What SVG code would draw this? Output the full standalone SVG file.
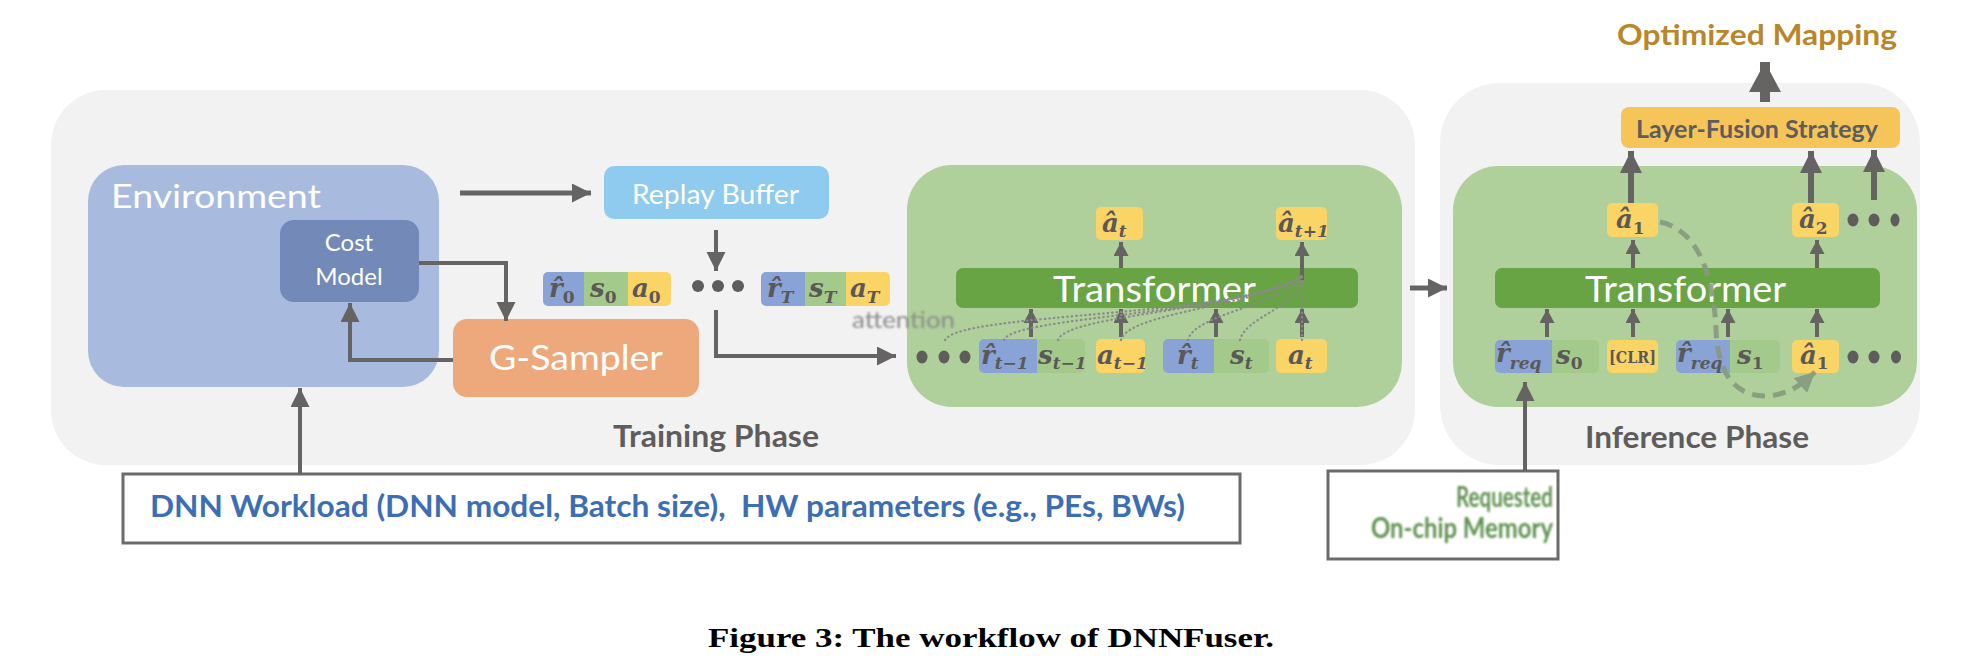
<svg xmlns="http://www.w3.org/2000/svg" width="1986" height="671" viewBox="0 0 1986 671">
<style>
.lbl{font-family:Lato,"Open Sans","Liberation Sans",sans-serif}
.w{fill:#ffffff}
.gr{fill:#5f5c5c}
.tok{font-family:"DejaVu Serif","Liberation Serif",serif;font-style:italic;font-weight:bold;fill:#5a5858}
.tokn{font-family:"DejaVu Serif","Liberation Serif",serif;font-weight:bold;fill:#5a5858}
.ar{stroke:#666363;fill:none}
.dot{fill:#5f5c5c}
.att{stroke:#8a8a8a;stroke-width:2.2;fill:none;stroke-dasharray:0.5 4;stroke-linecap:round}
.blue{fill:#89a3d6}.green{fill:#a3ca8a}.yel{fill:#fbd466}
</style>
<defs>
<marker id="am" markerUnits="userSpaceOnUse" markerWidth="20" markerHeight="20" refX="19" refY="9.5" orient="auto"><path d="M0,0 L19,9.5 L0,19 Z" fill="#666363"/></marker>
<marker id="as" markerUnits="userSpaceOnUse" markerWidth="16" markerHeight="16" refX="14" refY="7.5" orient="auto"><path d="M0,0 L14,7.5 L0,15 Z" fill="#666363"/></marker>
<marker id="ab" markerUnits="userSpaceOnUse" markerWidth="24" markerHeight="24" refX="22" refY="11" orient="auto"><path d="M0,0 L22,11 L0,22 Z" fill="#666363"/></marker>
<marker id="ah" markerUnits="userSpaceOnUse" markerWidth="32" markerHeight="34" refX="30" refY="16" orient="auto"><path d="M0,0 L30,16 L0,32 Z" fill="#666363"/></marker>
<marker id="ad" markerUnits="userSpaceOnUse" markerWidth="22" markerHeight="22" refX="20" refY="10" orient="auto"><path d="M0,0 L20,10 L0,20 Z" fill="#879a80"/></marker>
<filter id="blur" x="-5%" y="-20%" width="110%" height="140%"><feGaussianBlur stdDeviation="0.9"/></filter>
</defs>

<g id="training-panel">
<rect x="51" y="90" width="1364" height="375" rx="55" fill="#f2f2f2"/>
<text class="lbl gr" x="613" y="447" font-size="30" font-weight="bold" textLength="206" lengthAdjust="spacingAndGlyphs">Training Phase</text>
</g>
<g id="inference-panel">
<rect x="1440" y="83" width="480" height="382" rx="60" fill="#f2f2f2"/>
<text class="lbl gr" x="1585" y="448" font-size="30" font-weight="bold" textLength="224" lengthAdjust="spacingAndGlyphs">Inference Phase</text>
</g>

<g id="environment">
<rect x="88" y="165" width="351" height="222" rx="36" fill="#a9badf"/>
<text class="lbl w" x="111" y="208" font-size="33" textLength="210" lengthAdjust="spacingAndGlyphs">Environment</text>
</g>
<g id="cost-model">
<rect x="280" y="220" width="139" height="82" rx="14" fill="#7389b8"/>
<text class="lbl w" x="349" y="251" font-size="24" text-anchor="middle">Cost</text>
<text class="lbl w" x="349" y="285" font-size="24" text-anchor="middle">Model</text>
</g>
<g id="g-sampler">
<rect x="453" y="319" width="246" height="78" rx="14" fill="#eda97c"/>
<text class="lbl w" x="489" y="370" font-size="35" textLength="174" lengthAdjust="spacingAndGlyphs">G-Sampler</text>
</g>
<g id="replay-buffer">
<rect x="604" y="166" width="225" height="53" rx="10" fill="#8fcbee"/>
<text class="lbl w" x="632" y="204" font-size="26" textLength="167" lengthAdjust="spacingAndGlyphs">Replay Buffer</text>
</g>

<g id="trajectory-0">
<path class="blue" d="M548,272 H584 V306 H548 A5,5 0 0 1 543,301 V277 A5,5 0 0 1 548,272 Z"/>
<rect class="green" x="584" y="272" width="44" height="34"/>
<path class="yel" d="M628,272 H666 A5,5 0 0 1 671,277 V301 A5,5 0 0 1 666,306 H628 Z"/>
<text class="tok" x="549" y="297" font-size="26">r̂<tspan dy="6" font-size="17" font-style="normal">0</tspan></text>
<text class="tok" x="590" y="297" font-size="26">s<tspan dy="6" font-size="17" font-style="normal">0</tspan></text>
<text class="tok" x="632" y="297" font-size="26">a<tspan dy="6" font-size="17" font-style="normal">0</tspan></text>
</g>
<g id="trajectory-dots">
<circle class="dot" cx="698" cy="286" r="6"/><circle class="dot" cx="718" cy="286" r="6"/><circle class="dot" cx="738" cy="286" r="6"/>
</g>
<g id="trajectory-T">
<path class="blue" d="M766,272 H805 V306 H766 A5,5 0 0 1 761,301 V277 A5,5 0 0 1 766,272 Z"/>
<rect class="green" x="805" y="272" width="41" height="34"/>
<path class="yel" d="M846,272 H885 A5,5 0 0 1 890,277 V301 A5,5 0 0 1 885,306 H846 Z"/>
<text class="tok" x="767" y="297" font-size="26">r̂<tspan dy="6" font-size="17">T</tspan></text>
<text class="tok" x="809" y="297" font-size="26">s<tspan dy="6" font-size="17">T</tspan></text>
<text class="tok" x="850" y="297" font-size="26">a<tspan dy="6" font-size="17">T</tspan></text>
</g>

<g id="training-transformer-block">
<rect x="907" y="165" width="495" height="242" rx="45" fill="#afd09a"/>
<rect x="956" y="268" width="402" height="40" rx="7" fill="#68a344"/>
<text class="lbl w" x="1053" y="302" font-size="37" textLength="203" lengthAdjust="spacingAndGlyphs">Transformer</text>
<rect class="yel" x="1096" y="207" width="47" height="33" rx="5"/>
<rect class="yel" x="1276" y="207" width="51" height="33" rx="5"/>
<text class="tok" x="1102" y="232" font-size="26">â<tspan dy="5" font-size="17">t</tspan></text>
<text class="tok" x="1278" y="232" font-size="26">â<tspan dy="5" font-size="17">t+1</tspan></text>
<ellipse class="dot" cx="922" cy="357" rx="5.5" ry="6.5"/><ellipse class="dot" cx="944" cy="357" rx="5.5" ry="6.5"/><ellipse class="dot" cx="965" cy="357" rx="5.5" ry="6.5"/>
<path class="blue" d="M984,339 H1037 V373 H984 A5,5 0 0 1 979,368 V344 A5,5 0 0 1 984,339 Z"/>
<path class="green" d="M1037,339 H1080 A5,5 0 0 1 1085,344 V368 A5,5 0 0 1 1080,373 H1037 Z"/>
<rect class="yel" x="1096" y="339" width="49" height="34" rx="5"/>
<path class="blue" d="M1168,339 H1214 V373 H1168 A5,5 0 0 1 1163,368 V344 A5,5 0 0 1 1168,339 Z"/>
<path class="green" d="M1214,339 H1264 A5,5 0 0 1 1269,344 V368 A5,5 0 0 1 1264,373 H1214 Z"/>
<rect class="yel" x="1276" y="339" width="51" height="34" rx="5"/>
<text class="tok" x="981" y="364" font-size="26">r̂<tspan dy="5" font-size="17">t−1</tspan></text>
<text class="tok" x="1038" y="364" font-size="26">s<tspan dy="5" font-size="17">t−1</tspan></text>
<text class="tok" x="1097" y="364" font-size="26">a<tspan dy="5" font-size="17">t−1</tspan></text>
<text class="tok" x="1177" y="364" font-size="26">r̂<tspan dy="5" font-size="17">t</tspan></text>
<text class="tok" x="1230" y="364" font-size="26">s<tspan dy="5" font-size="17">t</tspan></text>
<text class="tok" x="1288" y="364" font-size="26">a<tspan dy="5" font-size="17">t</tspan></text>
</g>
<g id="attention-label">
<text class="lbl" x="852" y="328" font-size="23" fill="#8c8c8c" filter="url(#blur)" textLength="103" lengthAdjust="spacingAndGlyphs">attention</text>
</g>

<g id="inference-transformer-block">
<rect x="1453" y="166" width="464" height="241" rx="45" fill="#afd09a"/>
<rect x="1495" y="268" width="385" height="40" rx="7" fill="#68a344"/>
<text class="lbl w" x="1585" y="302" font-size="37" textLength="201" lengthAdjust="spacingAndGlyphs">Transformer</text>
<rect class="yel" x="1607" y="203" width="51" height="34" rx="5"/>
<rect class="yel" x="1792" y="203" width="47" height="34" rx="5"/>
<text class="tok" x="1616" y="228" font-size="26">â<tspan dy="6" font-size="17" font-style="normal">1</tspan></text>
<text class="tok" x="1799" y="228" font-size="26">â<tspan dy="6" font-size="17" font-style="normal">2</tspan></text>
<ellipse class="dot" cx="1853" cy="220" rx="5.5" ry="6.5"/><ellipse class="dot" cx="1874" cy="220" rx="5.5" ry="6.5"/><ellipse class="dot" cx="1895" cy="220" rx="4.5" ry="6.5"/>
<path class="blue" d="M1500,340 H1552 V373 H1500 A5,5 0 0 1 1495,368 V345 A5,5 0 0 1 1500,340 Z"/>
<path class="green" d="M1552,340 H1594 A5,5 0 0 1 1599,345 V368 A5,5 0 0 1 1594,373 H1552 Z"/>
<rect class="yel" x="1607" y="340" width="51" height="33" rx="5"/>
<path class="blue" d="M1681,340 H1730 V373 H1681 A5,5 0 0 1 1676,368 V345 A5,5 0 0 1 1681,340 Z"/>
<path class="green" d="M1730,340 H1775 A5,5 0 0 1 1780,345 V368 A5,5 0 0 1 1775,373 H1730 Z"/>
<rect class="yel" x="1792" y="340" width="47" height="33" rx="5"/>
<text class="tok" x="1496" y="362" font-size="26">r̂<tspan dy="7" font-size="17">req</tspan></text>
<text class="tok" x="1556" y="364" font-size="26">s<tspan dy="5" font-size="17" font-style="normal">0</tspan></text>
<text class="tokn" x="1609" y="363" font-size="17" textLength="47" lengthAdjust="spacingAndGlyphs">[CLR]</text>
<text class="tok" x="1677" y="362" font-size="26">r̂<tspan dy="7" font-size="17">req</tspan></text>
<text class="tok" x="1737" y="364" font-size="26">s<tspan dy="5" font-size="17" font-style="normal">1</tspan></text>
<text class="tok" x="1800" y="364" font-size="26">â<tspan dy="5" font-size="17" font-style="normal">1</tspan></text>
<ellipse class="dot" cx="1853" cy="357" rx="5.5" ry="6.5"/><ellipse class="dot" cx="1874" cy="357" rx="5.5" ry="6.5"/><ellipse class="dot" cx="1896" cy="357" rx="5" ry="6.5"/>
</g>

<g id="layer-fusion-strategy">
<rect x="1621" y="107" width="279" height="41" rx="8" fill="#f6c55a"/>
<text class="lbl gr" x="1636" y="138" font-size="24" font-weight="bold" textLength="242" lengthAdjust="spacingAndGlyphs">Layer-Fusion Strategy</text>
</g>
<g id="optimized-mapping">
<text class="lbl" x="1617" y="45" font-size="29" font-weight="bold" fill="#b8862b" textLength="280" lengthAdjust="spacingAndGlyphs">Optimized Mapping</text>
</g>

<g id="dnn-workload">
<rect x="123" y="474" width="1117" height="69" fill="#ffffff" stroke="#6b6b6b" stroke-width="3"/>
<text class="lbl" x="150" y="517" font-size="30" font-weight="bold" fill="#3c6eb4" textLength="1035" lengthAdjust="spacingAndGlyphs">DNN Workload (DNN model, Batch size),&#160; HW parameters (e.g., PEs, BWs)</text>
</g>
<g id="requested-memory">
<rect x="1328" y="471" width="230" height="88" fill="#ffffff" stroke="#6b6b6b" stroke-width="3"/>
<text class="lbl" x="1553" y="507" font-size="28" font-weight="bold" fill="#5e9150" text-anchor="end" filter="url(#blur)" textLength="97" lengthAdjust="spacingAndGlyphs">Requested</text>
<text class="lbl" x="1553" y="538" font-size="28" font-weight="bold" fill="#5e9150" text-anchor="end" filter="url(#blur)" textLength="182" lengthAdjust="spacingAndGlyphs">On-chip Memory</text>
</g>

<g id="connectors">
<path class="ar" stroke-width="5" d="M460,193 H591" marker-end="url(#am)"/>
<path class="ar" stroke-width="4" d="M716,230 V271" marker-end="url(#am)"/>
<path class="ar" stroke-width="4" d="M716,310 V356 H896" marker-end="url(#am)"/>
<path class="ar" stroke-width="4" d="M419,263 H506 V321" marker-end="url(#am)"/>
<path class="ar" stroke-width="4" d="M453,360 H350 V303" marker-end="url(#am)"/>
<path class="ar" stroke-width="4" d="M300,474 V388" marker-end="url(#am)"/>
<path class="ar" stroke-width="5" d="M1410,288 H1447" marker-end="url(#am)"/>
<path class="ar" stroke-width="4" d="M1525,471 V382" marker-end="url(#am)"/>
<path class="ar" stroke-width="4" d="M1031,337 V309" marker-end="url(#as)"/>
<path class="ar" stroke-width="4" d="M1121,337 V309" marker-end="url(#as)"/>
<path class="ar" stroke-width="4" d="M1216,337 V309" marker-end="url(#as)"/>
<path class="ar" stroke-width="4" d="M1302,337 V309" marker-end="url(#as)"/>
<path class="ar" stroke-width="4" d="M1121,268 V242" marker-end="url(#as)"/>
<path class="ar" stroke-width="4" d="M1302,280 V242" marker-end="url(#as)"/>
<path class="att" d="M945,340 C960,312 1240,318 1302,276"/>
<path class="att" d="M1004,340 C1012,316 1245,314 1302,276"/>
<path class="att" d="M1058,340 C1066,314 1250,310 1302,276"/>
<path class="att" d="M1121,340 C1128,312 1260,306 1302,276"/>
<path class="att" d="M1188,340 C1194,314 1280,306 1302,276"/>
<path class="att" d="M1240,340 C1246,316 1296,310 1302,276"/>
<path class="att" d="M1302,340 V276"/>
<path class="ar" stroke-width="4" d="M1547,337 V309" marker-end="url(#as)"/>
<path class="ar" stroke-width="4" d="M1633,337 V309" marker-end="url(#as)"/>
<path class="ar" stroke-width="4" d="M1728,337 V309" marker-end="url(#as)"/>
<path class="ar" stroke-width="4" d="M1817,337 V309" marker-end="url(#as)"/>
<path class="ar" stroke-width="4" d="M1633,268 V240" marker-end="url(#as)"/>
<path class="ar" stroke-width="4" d="M1817,268 V240" marker-end="url(#as)"/>
<path class="ar" stroke-width="6" d="M1631,203 V151" marker-end="url(#ab)"/>
<path class="ar" stroke-width="6" d="M1811,203 V151" marker-end="url(#ab)"/>
<path class="ar" stroke-width="6" d="M1874,200 V150" marker-end="url(#ab)"/>
<path class="ar" stroke-width="10" d="M1765,102 V62" marker-end="url(#ah)"/>
<path d="M1660,222 C1700,230 1714,280 1716,330 C1718,385 1745,400 1775,395 C1792,392 1802,384 1815,372" fill="none" stroke="#879a80" stroke-width="5" stroke-dasharray="13 8" opacity="0.9" marker-end="url(#ad)"/>
</g>

<g id="caption">
<text x="991" y="647" font-family="'Liberation Serif',serif" font-weight="bold" font-size="27" text-anchor="middle" textLength="566" lengthAdjust="spacingAndGlyphs">Figure 3: The workflow of DNNFuser.</text>
</g>
</svg>
